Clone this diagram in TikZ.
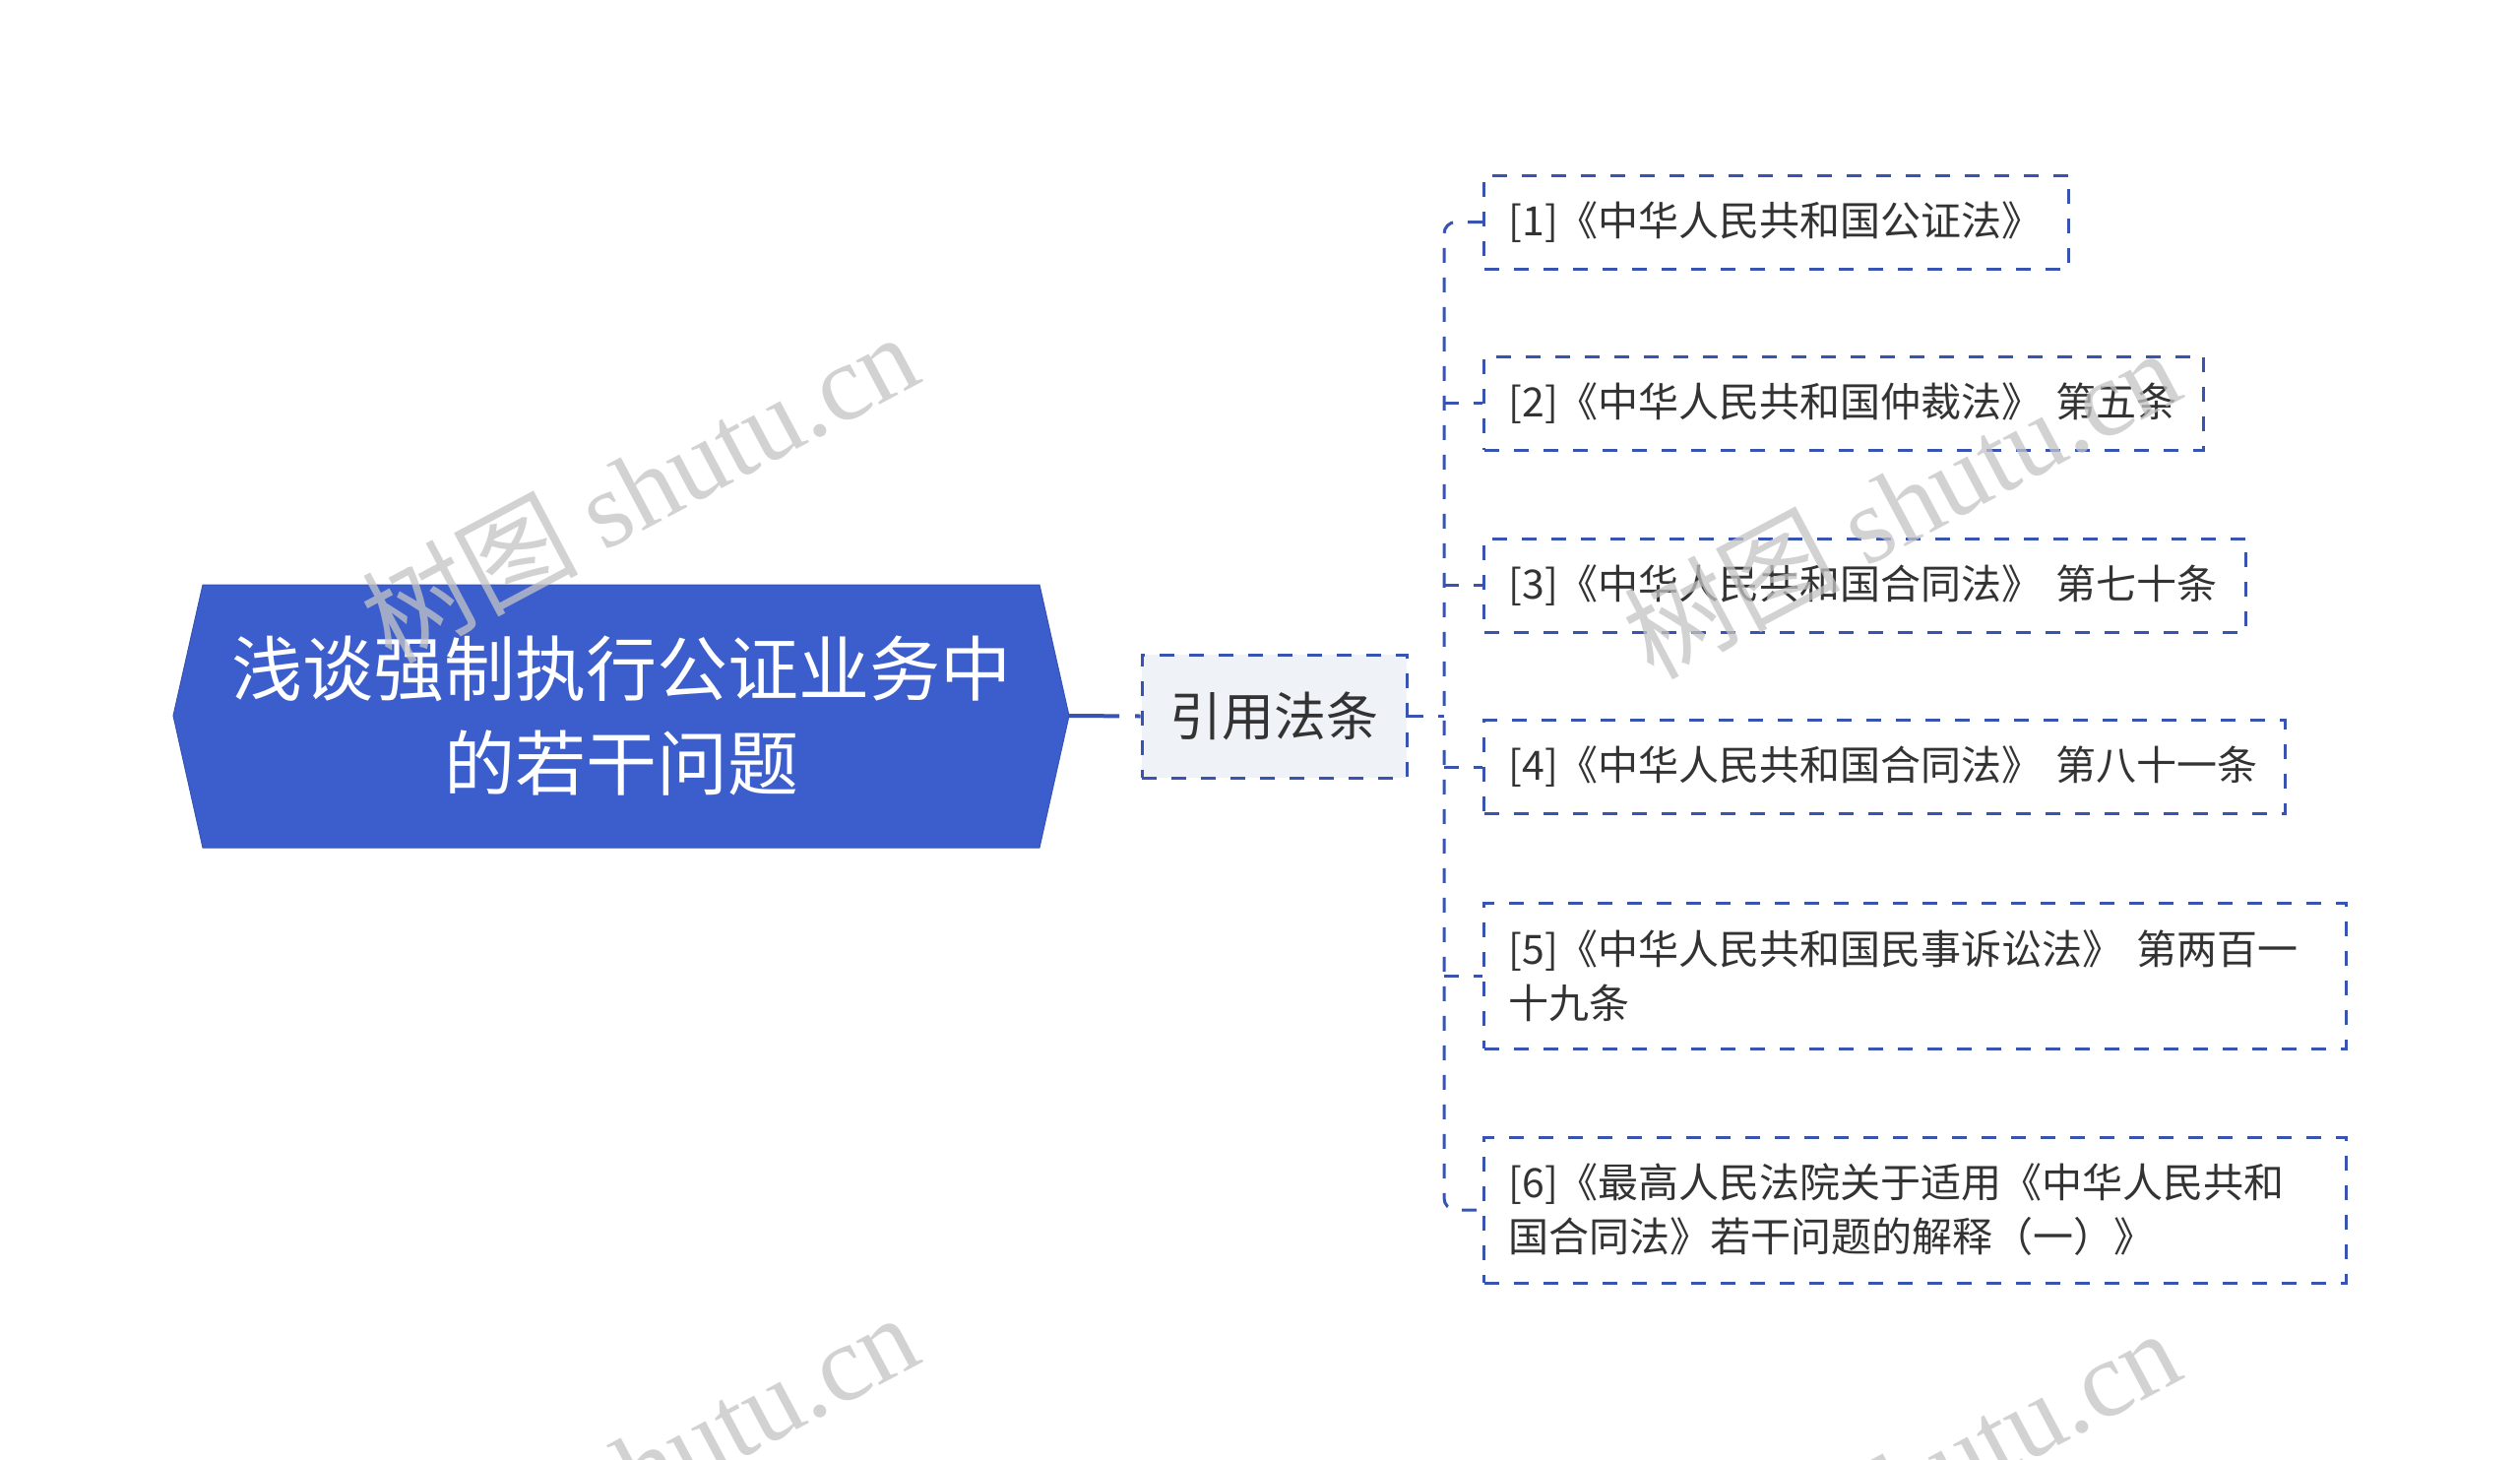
\documentclass[tikz,border=0pt]{standalone}
\usepackage{fontspec}
\setmainfont{Noto Sans CJK SC}
\newfontfamily\cjk{Noto Sans CJK SC}
\newfontfamily\wmserif{Liberation Serif}
\definecolor{linec}{HTML}{3854B0}
\definecolor{rootfill}{HTML}{3B5ECC}
\definecolor{midfill}{HTML}{EFF2F6}
\definecolor{txt}{HTML}{333333}
\definecolor{wmc}{HTML}{C4C4C4}
\begin{document}
\begin{tikzpicture}[x=1pt,y=-1pt,
  dashline/.style={draw=linec, line width=3pt, dash pattern=on 15pt off 15pt},
  child/.style={dashline, fill=white, anchor=west, inner xsep=25pt, inner ysep=0pt,
    align=left, text=txt, font=\fontsize{41}{55}\selectfont},
  midbox/.style={dashline, fill=midfill, minimum width=269pt, minimum height=125pt,
    inner sep=0pt, text=txt, font=\fontsize{53}{60}\selectfont},
  roottext/.style={text=white, align=center, font=\fontsize{72}{96}\selectfont, inner sep=0pt},
  wm/.style={text=wmc, opacity=0.75, rotate=28, font=\fontsize{110}{120}\selectfont, inner sep=0pt}
]
\useasboundingbox (0,0) rectangle (2560,1483);
\clip (0,0) rectangle (2560,1483);
\fill[white] (0,0) rectangle (2560,1483);

% root
\fill[rootfill, draw=linec, line width=1pt] (206,594) -- (1056,594) -- (1086,727) -- (1056,861) -- (206,861) -- (176,727) -- cycle;
\node[roottext] (root) at (631,727) {浅谈强制执行公证业务中\\的若干问题};
\coordinate (rootE) at (1086,727);

% middle
\node[midbox] (mid) at (1294.5,727.5) {引用法条};

% children
\node[child, minimum width=594pt, minimum height=95pt, text width=544pt] (c1) at (1506,225.5) {[1]《中华人民共和国公证法》};
\node[child, minimum width=731pt, minimum height=95pt, text width=681pt] (c2) at (1506,409.5) {[2]《中华人民共和国仲裁法》 第五条};
\node[child, minimum width=774pt, minimum height=95pt, text width=724pt] (c3) at (1506,594.5) {[3]《中华人民共和国合同法》 第七十条};
\node[child, minimum width=814pt, minimum height=95pt, text width=764pt] (c4) at (1506,779) {[4]《中华人民共和国合同法》 第八十一条};
\node[child, minimum width=876pt, minimum height=148pt, text width=826pt] (c5) at (1506,991) {[5]《中华人民共和国民事诉讼法》 第两百一\\十九条};
\node[child, minimum width=876pt, minimum height=148pt, text width=826pt] (c6) at (1506,1229) {[6]《最高人民法院关于适用《中华人民共和\\国合同法》若干问题的解释（一）》};

% connectors
\draw[draw=linec, line width=4pt, dash pattern=on 51pt off 16pt on 30pt off 0pt] (rootE) -- (mid.west);
\coordinate (spT) at (1467,225.5);
\coordinate (spB) at (1467,1229);
\coordinate (spM) at (1467,727.5);
\draw[dashline, rounded corners=12pt] (c1.west) -- (spT) -- (spB) -- (c6.west);
\draw[dashline] (mid.east) -- (spM);
\foreach \c in {c2,c3,c4,c5} \draw[dashline] (spT |- \c.west) -- (\c.west);

% watermarks
\node[wm] (wm1) at (649,494) {{\cjk 树图} {\wmserif shutu.cn}};
\node[wm] (wm2) at (1931,510) {{\cjk 树图} {\wmserif shutu.cn}};
\node[wm] (wm3) at (649,1490) {{\cjk 树图} {\wmserif shutu.cn}};
\node[wm] (wm4) at (1931,1506) {{\cjk 树图} {\wmserif shutu.cn}};
\end{tikzpicture}
\end{document}
